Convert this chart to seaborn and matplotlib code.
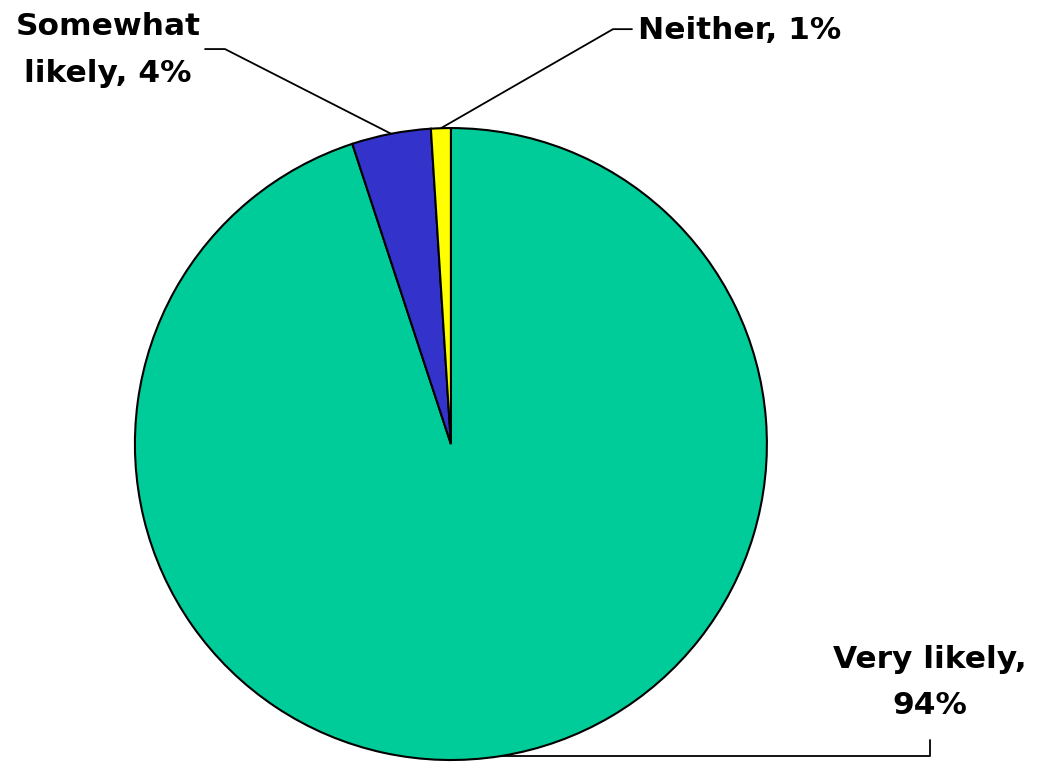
import numpy as np
import matplotlib
matplotlib.use("Agg")
import matplotlib.pyplot as plt
import seaborn as sns

categories = ["Very likely", "Somewhat likely", "Neither"]
values = [94, 4, 1]
label_texts = ["Very likely,\n94%", "Somewhat\nlikely, 4%", "Neither, 1%"]
colors = ["#00CC99", "#3333CC", "#FFFF00"]

sns.set_style("white")
plt.rcParams['font.family'] = ['DejaVu Sans']
plt.rcParams['text.color'] = 'black'

fig = plt.figure(figsize=(10.38, 7.62), dpi=100)
ax = fig.add_axes([0, 0, 1, 1])
wedges, _ = ax.pie(values, colors=colors, startangle=90, counterclock=False,
                   wedgeprops=dict(edgecolor="black", linewidth=1.5))
ax.set_xlim(-1.427, 1.858)
ax.set_ylim(-1.006, 1.405)
ax.set_aspect("equal")
ax.axis("off")

def mid_point(w, r=1.0):
    a = np.deg2rad((w.theta1 + w.theta2) / 2)
    return r * np.cos(a), r * np.sin(a)

fs = 22.5
ls = 1.75
# Somewhat likely
x0, y0 = mid_point(wedges[1])
ax.plot([x0, -0.715, -0.778], [y0, 1.25, 1.25], color="black", lw=1.3)
ax.text(-1.085, 1.247, label_texts[1], ha="center", va="center", fontsize=fs,
        fontweight="bold", linespacing=ls, color="black")
# Neither
x0, y0 = mid_point(wedges[2])
ax.plot([x0, 0.513, 0.573], [y0, 1.313, 1.313], color="black", lw=1.3)
ax.text(0.592, 1.308, label_texts[2], ha="left", va="center", fontsize=fs,
        fontweight="bold", color="black")
# Very likely
x0, y0 = mid_point(wedges[0])
ax.plot([x0, 1.516, 1.516], [y0, y0, -0.937], color="black", lw=1.3)
ax.text(1.516, -0.755, label_texts[0], ha="center", va="center", fontsize=fs,
        fontweight="bold", linespacing=ls, color="black")

fig.savefig("out.png", dpi=100)
